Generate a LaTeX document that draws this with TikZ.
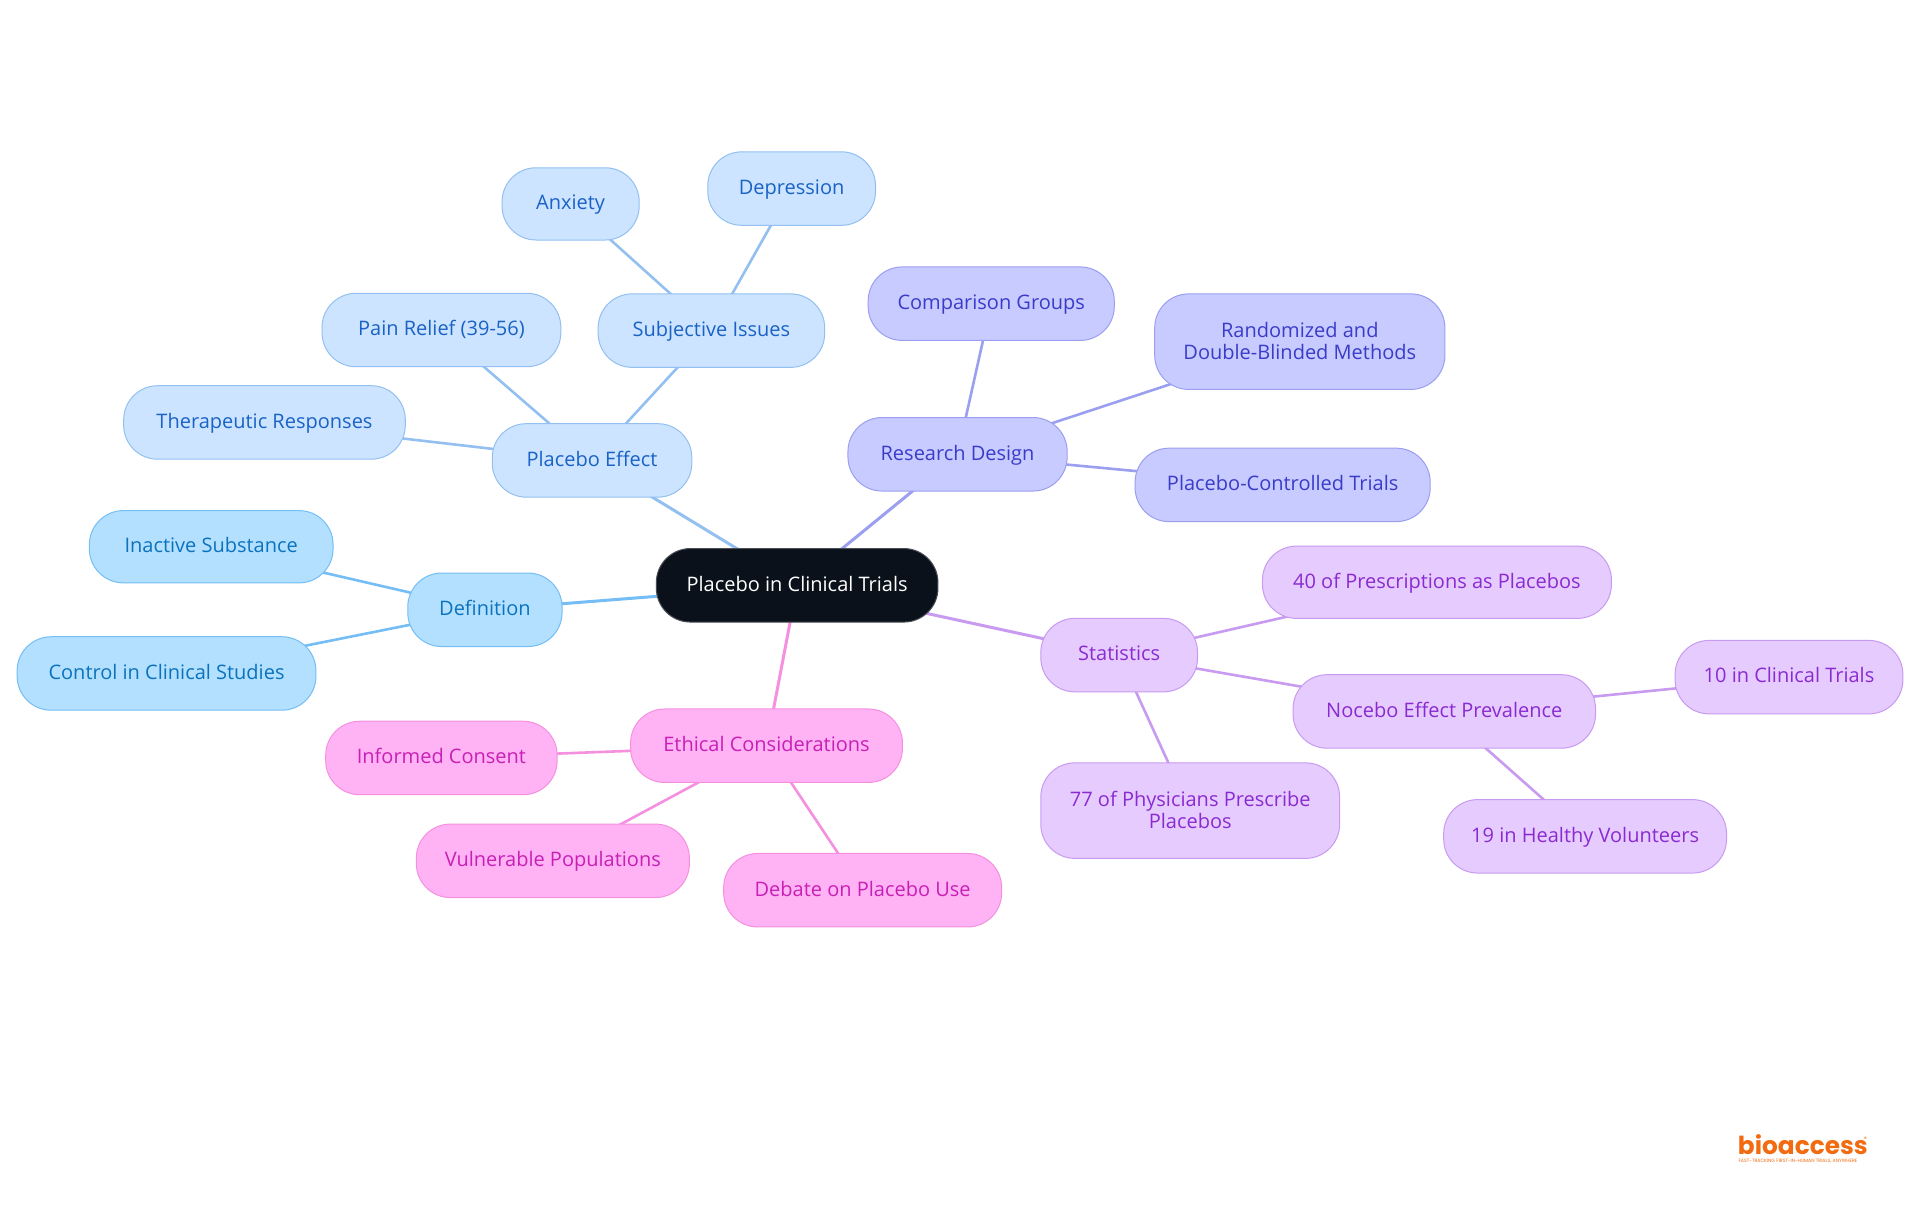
\documentclass[tikz,border=0pt]{standalone}
\usepackage{fontspec}
\setmainfont{Open Sans}
\newfontfamily\logofont{Poppins}
\usetikzlibrary{backgrounds}
\definecolor{rootfill}{HTML}{0B111A}
\definecolor{rootline}{HTML}{4A4F57}
\definecolor{defill}{HTML}{B3E0FF}\definecolor{deline}{HTML}{74BEF5}\definecolor{detext}{HTML}{0B73BE}
\definecolor{plfill}{HTML}{CCE4FF}\definecolor{plline}{HTML}{93C0F0}\definecolor{pltext}{HTML}{1A62C5}
\definecolor{refill}{HTML}{C8CBFF}\definecolor{reline}{HTML}{9A9FF0}\definecolor{retext}{HTML}{3A3CC8}
\definecolor{stfill}{HTML}{E6CBFF}\definecolor{stline}{HTML}{C89BF0}\definecolor{sttext}{HTML}{8A2BD0}
\definecolor{etfill}{HTML}{FFB3F5}\definecolor{etline}{HTML}{F590E0}\definecolor{ettext}{HTML}{C81FB5}
\definecolor{logoorange}{HTML}{F26B10}
\tikzset{
  sz/.style 2 args={minimum width=#1*0.612245pt, minimum height=#2*0.612245pt},
  mm/.style={rectangle, rounded corners=17pt, line width=0.5pt, inner sep=0pt, align=center,
    font=\fontsize{10}{10.7}\selectfont, text height=7.7pt, text depth=1.9pt},
  two/.style={text height=, text depth=},
  rootbox/.style={mm, fill=rootfill, draw=rootline, text=white},
  debox/.style={mm, fill=defill, draw=deline, text=detext},
  plbox/.style={mm, fill=plfill, draw=plline, text=pltext},
  rebox/.style={mm, fill=refill, draw=reline, text=retext},
  stbox/.style={mm, fill=stfill, draw=stline, text=sttext},
  etbox/.style={mm, fill=etfill, draw=etline, text=ettext},
  link/.style={line width=#1},
  link/.default=1.5pt,
}
\begin{document}
\begin{tikzpicture}[x=0.612245pt,y=-0.612245pt]
\useasboundingbox (0,0) rectangle (1568,992.25);
\node[rootbox, sz={230}{60}] (root) at (651,478) {Placebo in Clinical Trials};
\node[debox, sz={126}{60}] (definition) at (396,498) {Definition};
\node[debox, sz={199}{59}] (inactive) at (172.5,446.5) {Inactive Substance};
\node[debox, sz={244}{60}] (control) at (136,550) {Control in Clinical Studies};
\node[plbox, sz={163}{60}] (placebo) at (483.5,376) {Placebo Effect};
\node[plbox, sz={230}{60}] (therapeutic) at (216,345) {Therapeutic Responses};
\node[plbox, sz={195}{60}] (pain) at (360.5,269.5) {Pain Relief (39-56)};
\node[plbox, sz={185}{60}] (subjective) at (581,270) {Subjective Issues};
\node[plbox, sz={112}{59}] (anxiety) at (466,166.5) {Anxiety};
\node[plbox, sz={137}{60}] (depression) at (646.5,154) {Depression};
\node[rebox, sz={179}{60}] (research) at (782,371) {Research Design};
\node[rebox, sz={201}{60}] (comparison) at (809.5,248) {Comparison Groups};
\node[rebox, two, sz={237}{78}] (randomized) at (1061.5,279) {\raisebox{0.8pt}{Randomized and}\\\raisebox{0.8pt}{Double-Blinded Methods}};
\node[rebox, sz={241}{60}] (controlled) at (1047.5,396) {Placebo-Controlled Trials};
\node[stbox, sz={128}{60}] (statistics) at (914,535) {Statistics};
\node[stbox, sz={285}{59}] (prescriptions) at (1173.5,475.5) {40 of Prescriptions as Placebos};
\node[stbox, sz={247}{60}] (nocebo) at (1179.5,581) {Nocebo Effect Prevalence};
\node[stbox, sz={186}{60}] (ten) at (1461,553) {10 in Clinical Trials};
\node[stbox, sz={231}{60}] (nineteen) at (1294.5,683) {19 in Healthy Volunteers};
\node[stbox, two, sz={244}{78}] (physicians) at (972,662) {\raisebox{0.8pt}{77 of Physicians Prescribe}\\\raisebox{0.8pt}{Placebos}};
\node[etbox, sz={222}{60}] (ethical) at (626,609) {Ethical Considerations};
\node[etbox, sz={189}{60}] (consent) at (360.5,619) {Informed Consent};
\node[etbox, sz={223}{60}] (vulnerable) at (451.5,703) {Vulnerable Populations};
\node[etbox, sz={227}{60}] (debate) at (704.5,727) {Debate on Placebo Use};
\node[font=\logofont\bfseries\fontsize{12.4}{13}\selectfont, text=logoorange, inner sep=0pt, anchor=west] (logo) at (1419,934.5) {bioaccess};
\node[font=\logofont\fontsize{3.2}{4}\selectfont, text=logoorange, inner sep=0pt, anchor=center] (regmark) at (1523.5,930) {®};
\node[font=\logofont\fontsize{2.35}{3}\selectfont, text=logoorange, inner sep=0pt, anchor=west] (tagline) at (1419.5,948.5) {FAST-TRACKING FIRST-IN-HUMAN TRIALS, ANYWHERE};
\begin{scope}[on background layer]
\fill[white] (0,0) rectangle (1568,992.25);
\draw[link, draw=deline] (root.center) -- (definition.center);
\draw[link=1.3pt, draw=deline] (definition.center) -- (inactive.center);
\draw[link=1.3pt, draw=deline] (definition.center) -- (control.center);
\draw[link, draw=plline] (root.center) -- (placebo.center);
\draw[link=1.3pt, draw=plline] (placebo.center) -- (therapeutic.center);
\draw[link=1.3pt, draw=plline] (placebo.center) -- (pain.center);
\draw[link=1.3pt, draw=plline] (placebo.center) -- (subjective.center);
\draw[link=1.3pt, draw=plline] (subjective.center) -- (anxiety.center);
\draw[link=1.3pt, draw=plline] (subjective.center) -- (depression.center);
\draw[link, draw=reline] (root.center) -- (research.center);
\draw[link=1.3pt, draw=reline] (research.center) -- (comparison.center);
\draw[link=1.3pt, draw=reline] (research.center) -- (randomized.center);
\draw[link=1.3pt, draw=reline] (research.center) -- (controlled.center);
\draw[link, draw=stline] (root.center) -- (statistics.center);
\draw[link=1.3pt, draw=stline] (statistics.center) -- (prescriptions.center);
\draw[link=1.3pt, draw=stline] (statistics.center) -- (nocebo.center);
\draw[link=1.3pt, draw=stline] (statistics.center) -- (physicians.center);
\draw[link=1.3pt, draw=stline] (nocebo.center) -- (ten.center);
\draw[link=1.3pt, draw=stline] (nocebo.center) -- (nineteen.center);
\draw[link, draw=etline] (root.center) -- (ethical.center);
\draw[link=1.3pt, draw=etline] (ethical.center) -- (consent.center);
\draw[link=1.3pt, draw=etline] (ethical.center) -- (vulnerable.center);
\draw[link=1.3pt, draw=etline] (ethical.center) -- (debate.center);
\end{scope}
\end{tikzpicture}
\end{document}
